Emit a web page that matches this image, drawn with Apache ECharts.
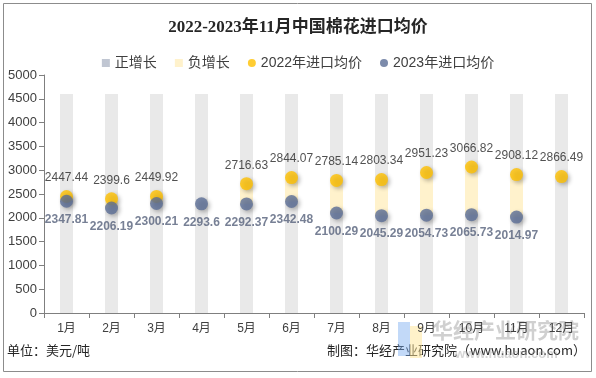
<!DOCTYPE html>
<html><head><meta charset="utf-8">
<script src="https://cdn.jsdelivr.net/npm/echarts@6/dist/echarts.min.js"></script>
<style>html,body{margin:0;padding:0;background:#fff}#c{width:596px;height:378px}</style>
</head><body><div id="c"></div>
<script>
var months = ['1月','2月','3月','4月','5月','6月','7月','8月','9月','10月','11月','12月'];
var price2022 = [2447.44, 2399.6, 2449.92, null, 2716.63, 2844.07, 2785.14, 2803.34, 2951.23, 3066.82, 2908.12, 2866.49];
var price2023 = [2347.81, 2206.19, 2300.21, 2293.6, 2292.37, 2342.48, 2100.29, 2045.29, 2054.73, 2065.73, 2014.97, null];
var bgHeight = [4600, 4600, 4600, 4600, 4600, 4600, 4600, 4600, 4600, 4600, 4600, 4600];
var yTicks = [0, 500, 1000, 1500, 2000, 2500, 3000, 3500, 4000, 4500, 5000];

var base = [], pos = [], neg = [];
for (var i = 0; i < months.length; i++) {
  var a = price2022[i], b = price2023[i];
  if (a == null || b == null) { base.push(0); pos.push(0); neg.push(0); continue; }
  base.push(Math.min(a, b));
  if (b >= a) { pos.push(b - a); neg.push(0); } else { pos.push(0); neg.push(a - b); }
}
var cjk = '"Liberation Sans", "Noto Sans CJK SC", sans-serif';
var chart = echarts.init(document.getElementById('c'));
chart.setOption({
  animation: false,
  backgroundColor: '#fff',
  title: {
    text: '2022-2023年11月中国棉花进口均价', left: 'center', top: 14,
    textStyle: { fontSize: 17, fontWeight: 'bold', color: '#262626', fontFamily: '"Liberation Serif", "Noto Sans CJK SC", serif' }
  },
  legend: {
    top: 51, left: 'center', itemWidth: 8, itemHeight: 8, itemGap: 18,
    textStyle: { fontSize: 14, color: '#404040', fontFamily: cjk },
    data: [
      { name: '正增长', icon: 'rect', itemStyle: { color: '#c0c6d2' } },
      { name: '负增长', icon: 'rect', itemStyle: { color: '#fff2cc' } },
      { name: '2022年进口均价', icon: 'circle', itemStyle: { color: '#ffc000' } },
      { name: '2023年进口均价', icon: 'circle', itemStyle: { color: '#5b6e96' } }
    ]
  },
  grid: { left: 44, right: 12, top: 75, bottom: 65, containLabel: false },
  xAxis: [{
    type: 'category', data: months,
    axisLine: { lineStyle: { color: '#7f7f7f' } },
    axisTick: { show: true, lineStyle: { color: '#7f7f7f' } },
    axisLabel: { color: '#404040', fontSize: 12, fontFamily: cjk, margin: 10 }
  }, {
    type: 'category', data: months, show: false
  }],
  yAxis: {
    type: 'value', min: 0, max: 5000, interval: 500,
    splitLine: { show: false },
    axisLine: { show: true, lineStyle: { color: '#7f7f7f' } },
    axisTick: { show: true, lineStyle: { color: '#7f7f7f' } },
    axisLabel: { color: '#404040', fontSize: 13, fontFamily: cjk, margin: 7, formatter: function (v) { return String(v); } }
  },
  series: [
    { name: 'bg', type: 'bar', xAxisIndex: 1, data: bgHeight, barWidth: 13,
      itemStyle: { color: '#e9e9e9' }, silent: true, z: 1 },
    { name: 'base', type: 'bar', stack: 'd', data: base, barWidth: 13,
      itemStyle: { color: 'rgba(0,0,0,0)' }, silent: true, z: 2 },
    { name: '正增长', type: 'bar', stack: 'd', data: pos, barWidth: 13,
      itemStyle: { color: '#c0c6d2' }, z: 2 },
    { name: '负增长', type: 'bar', stack: 'd', data: neg, barWidth: 13,
      itemStyle: { color: '#fff2cc' }, z: 2 },
    { name: '2022年进口均价', type: 'scatter', data: price2022, symbolSize: 13, z: 5,
      itemStyle: { color: '#ffc000', shadowBlur: 4, shadowOffsetX: 2, shadowOffsetY: 2, shadowColor: 'rgba(0,0,0,0.35)' },
      label: { show: true, position: 'top', distance: 6, color: '#262626', fontSize: 12, fontFamily: cjk } },
    { name: '2023年进口均价', type: 'scatter', data: price2023, symbolSize: 13, z: 6,
      itemStyle: { color: '#5b6e96', shadowBlur: 4, shadowOffsetX: 2, shadowOffsetY: 2, shadowColor: 'rgba(0,0,0,0.35)' },
      label: { show: true, position: 'bottom', distance: 6, color: '#55607a', fontSize: 12, fontWeight: 'bold', fontFamily: cjk } }
  ],
  graphic: [
    { type: 'rect', shape: { x: 3.5, y: 3.5, width: 588, height: 368 }, style: { fill: 'none', stroke: '#8c8c8c', lineWidth: 1 }, silent: true },
    { type: 'text', left: 7, top: 344, style: { text: '单位：美元/吨', fill: '#262626', font: '13px "Noto Sans CJK SC"' } },
    { type: 'text', right: 10, top: 344, style: { text: '制图：华经产业研究院（www.huaon.com）', fill: '#262626', font: '13px "Noto Sans CJK SC"' } },
    { type: 'rect', shape: { x: 398, y: 322, width: 12, height: 34 }, style: { fill: 'rgba(120,170,240,0.45)' }, silent: true },
    { type: 'rect', shape: { x: 410, y: 326, width: 12, height: 32 }, style: { fill: 'rgba(255,230,150,0.5)' }, silent: true },
    { type: 'text', left: 432, top: 320, style: { text: '华经产业研究院', fill: 'rgba(150,150,150,0.45)', font: 'bold 21px "Noto Sans CJK SC"' }, silent: true },
    { type: 'text', left: 455, top: 348, style: { text: 'www.huaon.com', fill: 'rgba(150,150,150,0.4)', font: 'bold 13px "Liberation Sans"' }, silent: true }
  ]
});
</script></body></html>
